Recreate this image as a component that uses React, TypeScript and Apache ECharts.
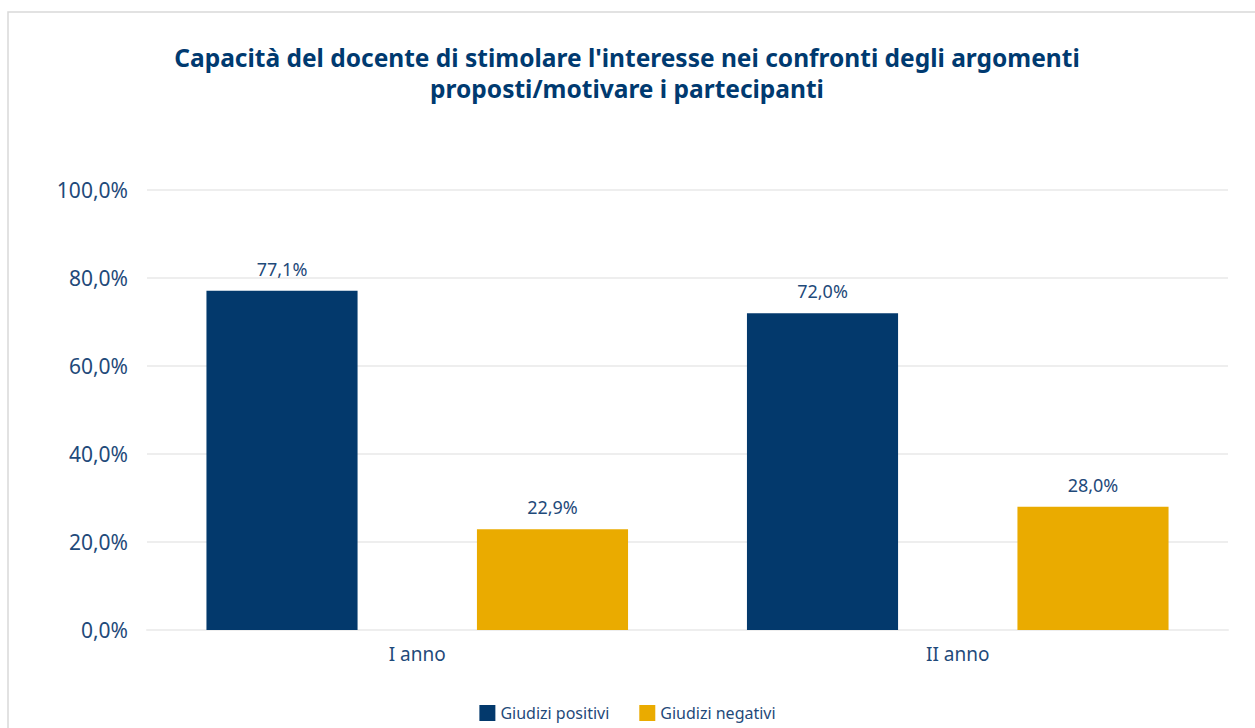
import React, { useEffect, useRef } from "react";
import * as echarts from "echarts";

const categories = ["I anno", "II anno"];
const positivi = [77.1, 72.0];
const negativi = [22.9, 28.0];
const seriesNames = ["Giudizi positivi", "Giudizi negativi"];
const titleLines = [
  "Capacità del docente di stimolare l'interesse nei confronti degli argomenti",
  "proposti/motivare i partecipanti",
];

const fmt = (v: number) => v.toFixed(1).replace(".", ",") + "%";

export default function App() {
  const ref = useRef<HTMLDivElement>(null);
  useEffect(() => {
    const chart = echarts.init(ref.current!, null, { renderer: "svg" });
    const textColor = "#1f4a7a";
    chart.setOption({
      animation: false,
      backgroundColor: "#ffffff",
      title: {
        text: titleLines.join("\n"),
        left: 622,
        textAlign: "center",
        top: 37,
        textStyle: {
          fontFamily: "Noto Sans",
          fontWeight: "bold",
          fontSize: 24.5,
          lineHeight: 31,
          color: "#003a70",
        },
      },
      graphic: [
        {
          type: "rect",
          shape: { x: 8, y: 12, width: 1260, height: 740 },
          style: { fill: "none", stroke: "#d9d9d9", lineWidth: 1.5 },
          silent: true,
        },
      ],
      legend: {
        bottom: 2,
        left: "center",
        itemWidth: 16,
        itemHeight: 16,
        itemGap: 30,
        icon: "rect",
        textStyle: { fontFamily: "Noto Sans", fontSize: 16, color: textColor },
        data: seriesNames,
      },
      grid: { left: 147, right: 27, top: 190, bottom: 98 },
      xAxis: {
        type: "category",
        data: categories,
        axisLine: { show: true, lineStyle: { color: "#eeeeee", width: 2 } },
        axisTick: { show: false },
        axisLabel: {
          fontFamily: "Noto Sans",
          fontSize: 19,
          color: textColor,
          margin: 14,
        },
      },
      yAxis: {
        type: "value",
        min: 0,
        max: 100,
        interval: 20,
        axisLine: { show: false },
        axisTick: { show: false },
        splitLine: { lineStyle: { color: "#eeeeee", width: 2 } },
        axisLabel: {
          fontFamily: "Noto Sans",
          fontSize: 21,
          color: textColor,
          margin: 19,
          formatter: (v: number) => fmt(v),
        },
      },
      series: [
        {
          name: seriesNames[0],
          type: "bar",
          data: positivi,
          barGap: "79%",
          barCategoryGap: "22%",
          itemStyle: { color: "#03396c" },
          label: {
            show: true,
            position: "top",
            distance: 13,
            fontFamily: "Noto Sans",
            fontSize: 18,
            color: textColor,
            formatter: (p: any) => fmt(p.value),
          },
        },
        {
          name: seriesNames[1],
          type: "bar",
          data: negativi,
          itemStyle: { color: "#eaab00" },
          label: {
            show: true,
            position: "top",
            distance: 13,
            fontFamily: "Noto Sans",
            fontSize: 18,
            color: textColor,
            formatter: (p: any) => fmt(p.value),
          },
        },
      ],
    });
    return () => chart.dispose();
  }, []);
  return (
    <div
      ref={ref}
      style={{ position: "absolute", left: 0, top: 0, width: 1255, height: 728 }}
    />
  );
}
